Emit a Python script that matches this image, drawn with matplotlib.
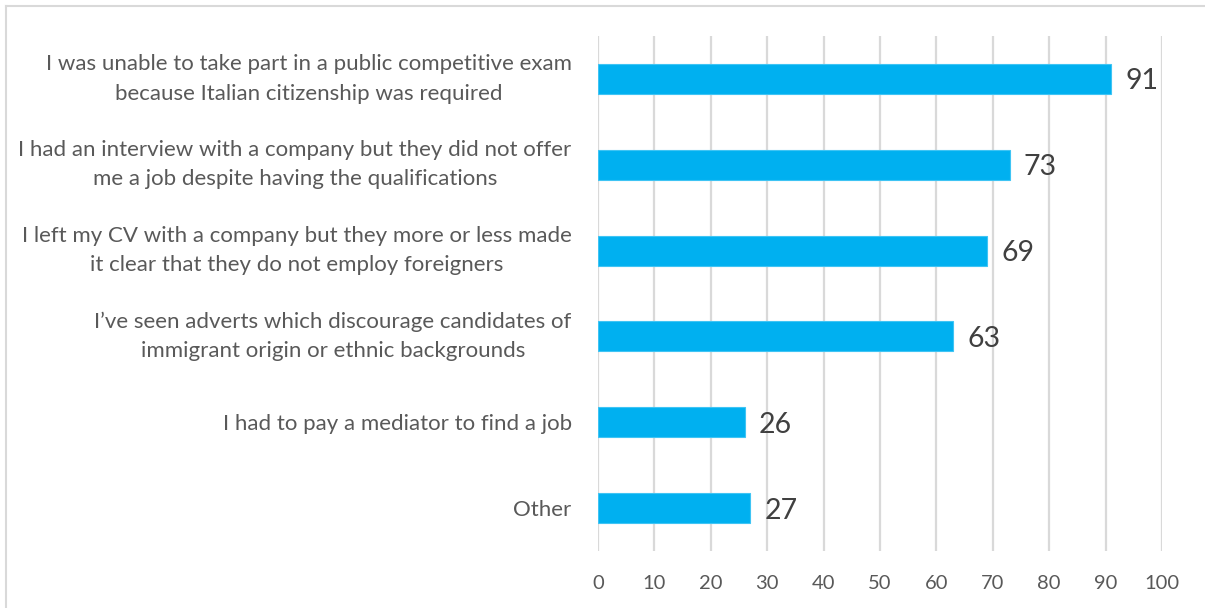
import matplotlib.pyplot as plt
import matplotlib.transforms as mtransforms
from matplotlib.lines import Line2D

# survey answers, top to bottom
labels = [
    "I was unable to take part in a public competitive exam\nbecause Italian citizenship was required",
    "I had an interview with a company but they did not offer\nme a job despite having the qualifications",
    "I left my CV with a company but they more or less made\nit clear that they do not employ foreigners",
    "I\u2019ve seen adverts which discourage candidates of\nimmigrant origin or ethnic backgrounds",
    "I had to pay a mediator to find a job",
    "Other",
]
values = [91, 73, 69, 63, 26, 27]
xticks = list(range(0, 101, 10))

plt.rcParams['font.family'] = ['Lato', 'DejaVu Sans']

fig = plt.figure(figsize=(12.05, 6.08), dpi=100)
ax = fig.add_axes([0.4963, 0.0938, 0.468, 0.847])

pos = list(range(len(values)))
ax.barh(pos, values, height=0.35, color='#00B0F0', edgecolor='#3FC4F4', linewidth=0.8, zorder=3)

for y, v in zip(pos, values):
    ax.text(v + 2.5, y + 0.03, str(v), va='center', ha='left', fontsize=20.5, color='#404040')

ax.set_xlim(0, 100)
ax.set_ylim(len(values) - 0.5, -0.5)
ax.set_xticks(xticks)
ax.set_yticks(pos)
ax.set_yticklabels(labels, multialignment='center', fontsize=16, color='#595959', linespacing=1.6)
ax.tick_params(axis='x', labelsize=14.5, labelcolor='#595959', length=0, pad=17)
ax.tick_params(axis='y', length=0, pad=19)
ax.grid(axis='x', color='#D9D9D9', linewidth=1.6, zorder=0)
for s in ax.spines.values():
    s.set_visible(False)

# two-line labels sit a bit low, nudge them up to the bar centre
nudge = mtransforms.ScaledTranslation(0, 7 / 100, fig.dpi_scale_trans)
for t in ax.get_yticklabels():
    if '\n' in t.get_text():
        t.set_transform(t.get_transform() + nudge)

# chart area outline
fig.add_artist(Line2D([6 / 1205, 6 / 1205], [0, 1 - 6 / 608], transform=fig.transFigure,
                      color='#D9D9D9', linewidth=1.5))
fig.add_artist(Line2D([6 / 1205, 1], [1 - 6 / 608, 1 - 6 / 608], transform=fig.transFigure,
                      color='#D9D9D9', linewidth=1.5))

fig.savefig('out.png', dpi=100)
